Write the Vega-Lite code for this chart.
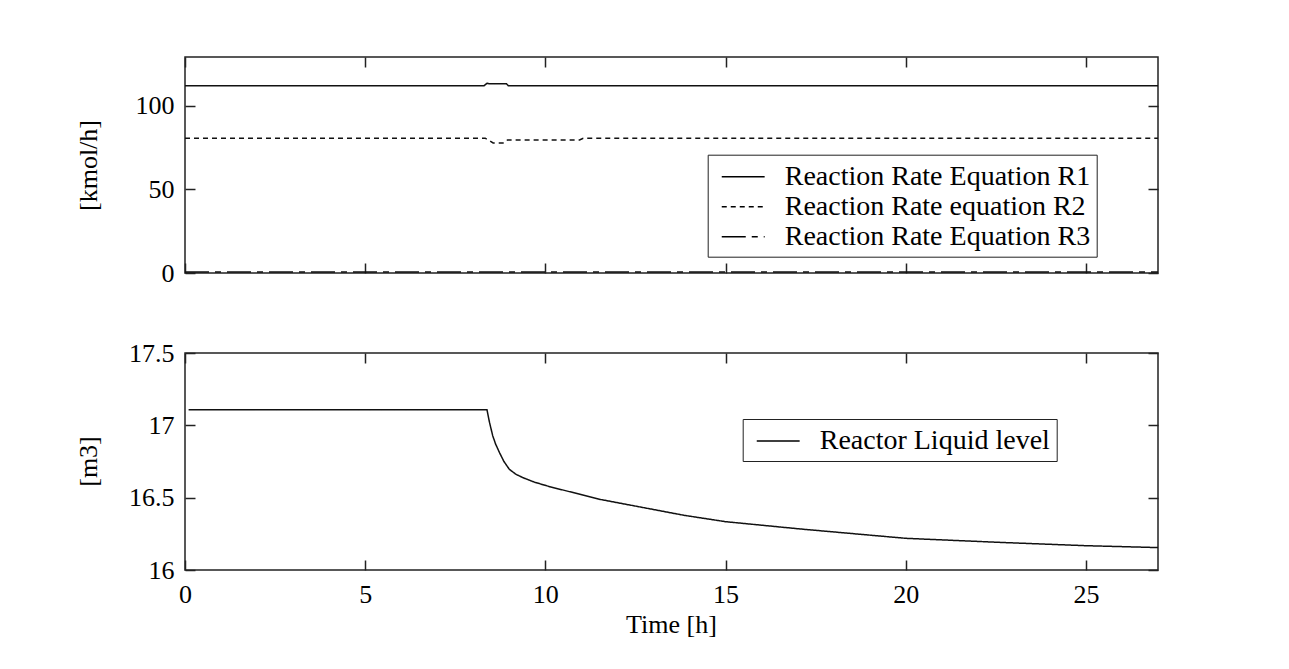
{
  "$schema": "https://vega.github.io/schema/vega-lite/v6.json",
  "padding": {"left": 74, "top": 55, "right": 5, "bottom": 5},
  "background": "white",
  "spacing": 80,
  "bounds": "flush",
  "resolve": {"scale": {"strokeDash": "independent"}, "legend": {"strokeDash": "independent"}},
  "config": {
    "font": "Liberation Serif",
    "view": {"stroke": "#222", "strokeWidth": 1.5},
    "axis": {
      "domain": false, "grid": false, "tickColor": "#222", "tickSize": -10, "tickWidth": 1.5, "labelFlush": false,
      "labelFont": "Liberation Serif", "labelFontSize": 26, "labelColor": "black", "labelPadding": 21,
      "titleFont": "Liberation Serif", "titleFontSize": 26, "titleFontWeight": "normal", "titleColor": "black"
    },
    "legend": {
      "orient": "none", "title": null, "strokeColor": "#222", "fillColor": "white", "padding": 6,
      "symbolType": "M-0.53,0H2.33", "symbolSize": 900, "symbolStrokeWidth": 1.5, "symbolStrokeColor": "black",
      "labelFont": "Liberation Serif", "labelFontSize": 28, "labelColor": "black", "labelOffset": 39, "rowPadding": 0, "labelLimit": 600
    }
  },
  "datasets": {
    "rates": [
      {"t": 0, "v": 111.9, "series": "Reaction Rate Equation R1"},
      {"t": 8.3, "v": 111.9, "series": "Reaction Rate Equation R1"},
      {"t": 8.38, "v": 113.3, "series": "Reaction Rate Equation R1"},
      {"t": 8.45, "v": 113.0, "series": "Reaction Rate Equation R1"},
      {"t": 8.92, "v": 113.0, "series": "Reaction Rate Equation R1"},
      {"t": 8.97, "v": 111.9, "series": "Reaction Rate Equation R1"},
      {"t": 27, "v": 111.9, "series": "Reaction Rate Equation R1"},
      {"t": 0, "v": 80.5, "series": "Reaction Rate equation R2"},
      {"t": 8.33, "v": 80.5, "series": "Reaction Rate equation R2"},
      {"t": 8.55, "v": 77.7, "series": "Reaction Rate equation R2"},
      {"t": 8.85, "v": 77.7, "series": "Reaction Rate equation R2"},
      {"t": 8.95, "v": 79.5, "series": "Reaction Rate equation R2"},
      {"t": 10.95, "v": 79.5, "series": "Reaction Rate equation R2"},
      {"t": 11.05, "v": 80.5, "series": "Reaction Rate equation R2"},
      {"t": 27, "v": 80.5, "series": "Reaction Rate equation R2"},
      {"t": 0, "v": 0.6, "series": "Reaction Rate Equation R3"},
      {"t": 13.5, "v": 0.6, "series": "Reaction Rate Equation R3"},
      {"t": 27, "v": 0.6, "series": "Reaction Rate Equation R3"}
    ],
    "level": [
      {"t": 0.1, "v": 17.107, "series": "Reactor Liquid level"},
      {"t": 8.38, "v": 17.107, "series": "Reactor Liquid level"},
      {"t": 8.45, "v": 17.02, "series": "Reactor Liquid level"},
      {"t": 8.54, "v": 16.927, "series": "Reactor Liquid level"},
      {"t": 8.62, "v": 16.87, "series": "Reactor Liquid level"},
      {"t": 8.73, "v": 16.81, "series": "Reactor Liquid level"},
      {"t": 8.85, "v": 16.75, "series": "Reactor Liquid level"},
      {"t": 9.0, "v": 16.696, "series": "Reactor Liquid level"},
      {"t": 9.18, "v": 16.662, "series": "Reactor Liquid level"},
      {"t": 9.38, "v": 16.638, "series": "Reactor Liquid level"},
      {"t": 9.7, "v": 16.607, "series": "Reactor Liquid level"},
      {"t": 10.12, "v": 16.576, "series": "Reactor Liquid level"},
      {"t": 11.52, "v": 16.488, "series": "Reactor Liquid level"},
      {"t": 13.85, "v": 16.378, "series": "Reactor Liquid level"},
      {"t": 15, "v": 16.334, "series": "Reactor Liquid level"},
      {"t": 17.1, "v": 16.283, "series": "Reactor Liquid level"},
      {"t": 20, "v": 16.219, "series": "Reactor Liquid level"},
      {"t": 22.7, "v": 16.19, "series": "Reactor Liquid level"},
      {"t": 25, "v": 16.168, "series": "Reactor Liquid level"},
      {"t": 27, "v": 16.155, "series": "Reactor Liquid level"}
    ]
  },
  "vconcat": [
    {
      "width": 973, "height": 216,
      "data": {"name": "rates"},
      "layer": [
        {
          "mark": {"type": "line", "strokeWidth": 1.5, "color": "#111"},
          "encoding": {
            "x": {"field": "t", "type": "quantitative", "scale": {"domain": [0, 27], "nice": false, "zero": false},
                  "axis": {"values": [0, 5, 10, 15, 20, 25], "labels": false, "title": null}},
            "y": {"field": "v", "type": "quantitative", "scale": {"domain": [0, 129], "nice": false},
                  "axis": {"values": [0, 50, 100], "title": "[kmol/h]", "titleX": -97, "titleY": 108, "titleAngle": -90, "titleAlign": "center", "titleBaseline": "middle"}},
            "strokeDash": {"field": "series", "type": "nominal",
                  "scale": {"domain": ["Reaction Rate Equation R1", "Reaction Rate equation R2", "Reaction Rate Equation R3"], "range": [[1, 0], [5, 4], [24, 6, 6, 6]]},
                  "legend": {"legendX": 522.7, "legendY": 97.7}}
          }
        },
        {
          "mark": {"type": "line", "strokeOpacity": 0},
          "encoding": {
            "x": {"field": "t", "type": "quantitative", "scale": {"domain": [0, 27], "nice": false, "zero": false},
                  "axis": {"orient": "top", "values": [0, 5, 10, 15, 20, 25], "labels": false, "title": null}},
            "y": {"field": "v", "type": "quantitative", "scale": {"domain": [0, 129], "nice": false},
                  "axis": {"orient": "right", "values": [0, 50, 100], "labels": false, "title": null}},
            "detail": {"field": "series", "type": "nominal"}
          }
        }
      ],
      "resolve": {"axis": {"x": "independent", "y": "independent"}}
    },
    {
      "width": 973, "height": 217,
      "data": {"name": "level"},
      "layer": [
        {
          "mark": {"type": "line", "strokeWidth": 1.5, "color": "#111"},
          "encoding": {
            "x": {"field": "t", "type": "quantitative", "scale": {"domain": [0, 27], "nice": false, "zero": false},
                  "axis": {"values": [0, 5, 10, 15, 20, 25], "title": "Time [h]", "titleX": 486, "titleY": 62, "titleAlign": "center", "titleBaseline": "alphabetic"}},
            "y": {"field": "v", "type": "quantitative", "scale": {"domain": [16, 17.5], "nice": false, "zero": false},
                  "axis": {"values": [16, 16.5, 17, 17.5], "format": "~g", "title": "[m3]", "titleX": -97, "titleY": 108, "titleAngle": -90, "titleAlign": "center", "titleBaseline": "middle"}},
            "strokeDash": {"field": "series", "type": "nominal",
                  "scale": {"domain": ["Reactor Liquid level"], "range": [[1, 0]]},
                  "legend": {"legendX": 557.7, "legendY": 66}}
          }
        },
        {
          "mark": {"type": "line", "strokeOpacity": 0},
          "encoding": {
            "x": {"field": "t", "type": "quantitative", "scale": {"domain": [0, 27], "nice": false, "zero": false},
                  "axis": {"orient": "top", "values": [0, 5, 10, 15, 20, 25], "labels": false, "title": null}},
            "y": {"field": "v", "type": "quantitative", "scale": {"domain": [16, 17.5], "nice": false, "zero": false},
                  "axis": {"orient": "right", "values": [16, 16.5, 17, 17.5], "labels": false, "title": null}}
          }
        }
      ],
      "resolve": {"axis": {"x": "independent", "y": "independent"}}
    }
  ]
}
